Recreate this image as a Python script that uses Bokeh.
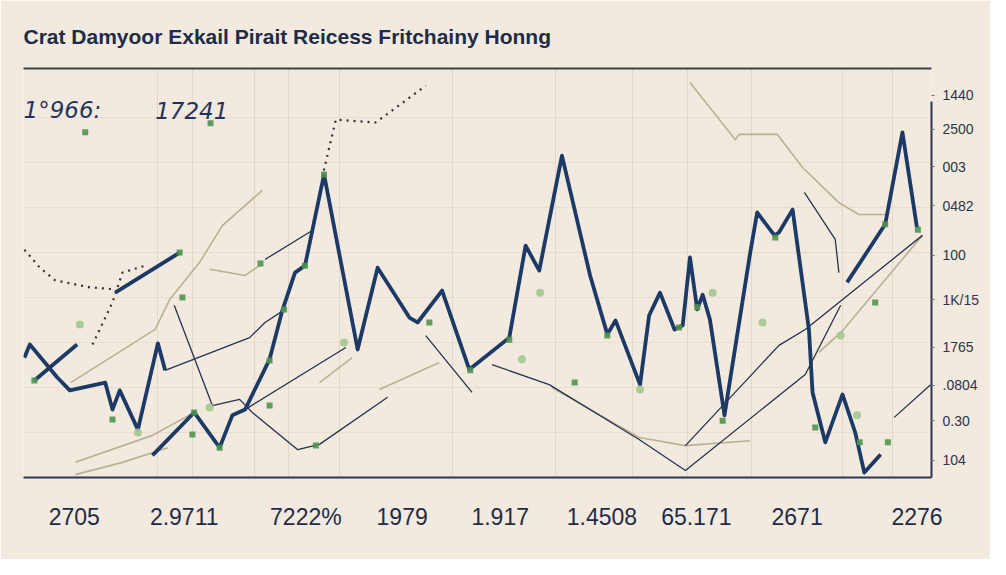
from bokeh.plotting import figure
from bokeh.models import Range1d, LinearAxis, FixedTicker, Grid, Label
from bokeh.embed import file_html
from bokeh.resources import INLINE

NaN = float("nan")

# ---------------- data ----------------
title_text = "Crat Damyoor Exkail Pirait Reicess Fritchainy Honng"

x_tick_pos = [5.6, 17.7, 31.1, 41.7, 52.5, 63.7, 74.1, 85.2, 98.4]
x_tick_labels = ["2705", "2.9711", "7222%", "1979", "1.917", "1.4508", "65.171", "2671", "2276"]

y_tick_pos = [93.4, 85.1, 76.0, 66.5, 54.3, 43.5, 31.8, 22.5, 13.9, 4.2]
y_tick_labels = ["1440", "2500", "003", "0482", "100", "1K/15", "1765", ".0804", "0.30", "104"]

corner_labels = ["1°966:", "17241"]
corner_x = [0.0, 14.5]
corner_y = [89.8, 89.8]

# thick navy series (NaN = gap)
main_x = [0.1, 0.7, 3.7, 5.1, 9.0, 9.8, 10.6, 12.6, 14.8, 15.6, NaN,
          1.2, 5.9, NaN,
          10.1, 17.2, NaN,
          14.2, 18.8, 21.6, 23.0, 24.4, 27.1, 28.5, 29.9, 31.0, 33.1, 36.8, 39.0,
          42.5, 43.4, 46.1, 49.1, 53.5, 55.3, 56.8, 59.3, 62.4, 64.3, 65.2, 67.9,
          68.9, 70.1, 71.7, 72.6, 73.4, 74.2, 74.8, 75.6, 77.2, 80.0, 80.8, 82.7,
          83.2, 84.7, 86.5, 86.9, 88.3, 90.2, 91.6, 92.6, 94.4, NaN,
          90.7, 94.9, 96.8, 98.4]
main_y = [29.3, 32.5, 24.5, 21.3, 23.2, 16.6, 21.3, 11.7, 32.8, 26.2, NaN,
          23.7, 32.5, NaN,
          45.2, 55.0, NaN,
          5.4, 15.9, 7.3, 15.2, 16.6, 28.9, 40.8, 50.1, 51.8, 74.1, 31.3, 51.3,
          39.1, 37.9, 45.7, 26.4, 34.2, 56.7, 50.6, 78.7, 49.4, 35.0, 38.4, 22.7,
          39.6, 45.2, 36.2, 37.2, 53.8, 41.1, 44.7, 38.6, 15.2, 54.5, 64.8, 59.2,
          59.9, 65.5, 36.2, 20.8, 8.6, 20.3, 11.0, 1.2, 5.6, NaN,
          47.7, 61.9, 84.4, 61.1]

# thin navy series
thin_x = [15.6, 24.9, 26.6, 28.8, NaN,
          26.6, 31.8, NaN,
          16.6, 20.8, 23.8, 25.2, 30.2, 32.6, 40.1, NaN,
          24.4, 35.5, NaN,
          44.3, 49.4, NaN,
          51.6, 57.9, 67.8, 72.9, 86.1, 90.0, NaN,
          72.9, 83.2, 86.1, 99.0, NaN,
          95.9, 99.9, NaN,
          86.0, 89.4, 89.8]
thin_y = [26.2, 34.2, 37.9, 41.1, NaN,
          53.3, 60.4, NaN,
          42.1, 17.6, 19.1, 15.9, 6.8, 8.1, 19.6, NaN,
          16.6, 31.8, NaN,
          34.7, 20.8, NaN,
          27.6, 22.7, 9.3, 1.7, 25.2, 42.1, NaN,
          7.8, 32.3, 36.2, 59.2, NaN,
          14.7, 22.7, NaN,
          69.7, 58.2, 50.1]

# tan series
tan_x = [73.4, 78.4, 78.8, 83.0, 85.8, 89.8, 92.0, 94.9, NaN,
         5.2, 14.5, 16.1, 19.4, 21.9, 26.3, NaN,
         5.7, 14.2, 18.8, NaN,
         5.7, 10.9, 15.9, NaN,
         20.5, 24.4, 26.0, NaN,
         58.2, 67.8, 72.9, 80.0, NaN,
         39.2, 45.8, NaN,
         87.6, 90.2, 99.0, NaN,
         32.6, 36.2]
tan_y = [96.6, 82.6, 83.9, 83.9, 75.8, 67.2, 64.3, 64.3, NaN,
         23.2, 36.2, 43.5, 52.6, 61.6, 70.2, NaN,
         3.7, 10.3, 15.9, NaN,
         0.7, 3.7, 7.3, NaN,
         50.9, 49.4, 51.8, NaN,
         22.0, 9.8, 7.8, 9.0, NaN,
         21.5, 28.1, NaN,
         30.6, 35.9, 59.2, NaN,
         23.2, 29.3]

# dotted dark series
dot_x = [0.1, 1.8, 3.5, 7.3, 10.1, NaN,
         7.6, 9.8, 10.9, 13.4, NaN,
         32.9, 34.4, 38.8, 44.3]
dot_y = [55.7, 51.3, 48.2, 46.5, 46.0, NaN,
         32.5, 42.8, 50.1, 51.8, NaN,
         73.4, 87.5, 86.8, 95.8]

# green points
green_x = [1.2, 17.5, 9.8, 18.8, 18.6, 21.6, 27.1, 28.7, 31.0, 33.1, 26.1, 17.2,
           27.1, 32.2, 44.7, 49.2, 53.5, 60.7, 64.3, 72.2, 74.2, 77.0, 82.8, 87.2,
           92.1, 95.2, 94.9, 98.5, 93.8, 6.8, 20.6]
green_y = [23.7, 44.0, 14.2, 15.9, 10.5, 7.3, 28.6, 41.1, 51.8, 74.1, 52.3, 55.0,
           17.6, 7.8, 37.9, 26.2, 33.7, 23.2, 34.7, 36.7, 41.6, 13.9, 58.7, 12.2,
           8.6, 8.6, 61.9, 60.6, 42.8, 84.4, 86.6]
light_x = [6.2, 12.6, 35.3, 54.9, 67.9, 81.4, 91.8, 20.5, 90.0, 56.9, 75.9]
light_y = [37.4, 11.0, 33.0, 28.9, 21.5, 37.9, 15.2, 17.1, 34.7, 45.2, 45.2]

# ---------------- styling ----------------
BG = "#f3eadf"
NAVY = "#1d3a66"
INK = "#1f2b47"

p = figure(width=990, height=559,
           x_range=Range1d(0, 100), y_range=Range1d(0, 100),
           output_backend="svg", toolbar_location=None,
           y_axis_location="right",
           min_border_left=23, min_border_right=59,
           min_border_top=68, min_border_bottom=82,
           background_fill_color=BG, border_fill_color=BG,
           outline_line_color=None)

xa = p.below[0]
ya = p.right[0]

p.title.text = title_text
p.title.text_font = "Liberation Sans"
p.title.text_font_size = "21px"
p.title.text_font_style = "bold"
p.title.text_color = INK
p.title.align = "left"
p.title.standoff = 42

# rule under the title
top_ax = LinearAxis(ticker=FixedTicker(ticks=[]), axis_line_color="#3b404c",
                    axis_line_width=2, major_tick_line_color=None,
                    minor_tick_line_color=None)
p.add_layout(top_ax, "above")

# bottom axis
xa.ticker = FixedTicker(ticks=x_tick_pos)
xa.major_label_overrides = {t: l for t, l in zip(x_tick_pos, x_tick_labels)}
xa.major_tick_line_color = None
xa.minor_tick_line_color = None
xa.axis_line_color = "#2b3650"
xa.axis_line_width = 2
xa.major_label_standoff = 20
xa.major_label_text_font = "Liberation Sans"
xa.major_label_text_font_size = "23px"
xa.major_label_text_color = INK

# right axis
ya.ticker = FixedTicker(ticks=y_tick_pos)
ya.major_label_overrides = {t: l for t, l in zip(y_tick_pos, y_tick_labels)}
ya.major_tick_in = 0
ya.major_tick_out = 3
ya.major_tick_line_color = "#6b6f78"
ya.minor_tick_line_color = None
ya.axis_line_color = "#2b3650"
ya.axis_line_width = 2
ya.bounds = (0, 92)
ya.major_label_standoff = 8
ya.major_label_text_font = "Liberation Sans"
ya.major_label_text_font_size = "14px"
ya.major_label_text_color = "#2e3447"

p.xgrid.visible = False
p.ygrid.visible = False
p.add_layout(Grid(dimension=0, ticker=FixedTicker(ticks=[14.8, 18.6, 25.4, 29.2, 34.8, 47.2, 58.6, 67.1, 73.1, 80.2, 90.2, 95.7]),
                  grid_line_color="#e3d7c7", grid_line_width=1))
p.add_layout(Grid(dimension=1, ticker=FixedTicker(ticks=[11, 22, 33, 44, 55, 66, 77, 88]),
                  grid_line_color="#e8ddcf", grid_line_width=1))

# lines
p.line(tan_x, tan_y, line_color="#b9b194", line_width=1.6, line_join="round")
p.line(dot_x, dot_y, line_color="#2b2f3a", line_width=2.2, line_dash="2 5")
p.line(thin_x, thin_y, line_color="#27324c", line_width=1.3, line_join="round")
p.line(main_x, main_y, line_color=NAVY, line_width=3.8, line_join="round")

p.scatter(light_x, light_y, marker="circle", size=8, fill_color="#a3c891",
          line_color=None, alpha=0.9)
p.scatter(green_x, green_y, marker="square", size=6, fill_color="#4f9450",
          line_color=None, alpha=0.9)

for t, x, y in zip(corner_labels, corner_x, corner_y):
    p.add_layout(Label(x=x, y=y, text=t, text_font="DejaVu Sans",
                       text_font_style="italic", text_font_size="23px",
                       text_color="#1f3460", text_baseline="alphabetic"))

open("out.html", "w").write(file_html(p, INLINE))
